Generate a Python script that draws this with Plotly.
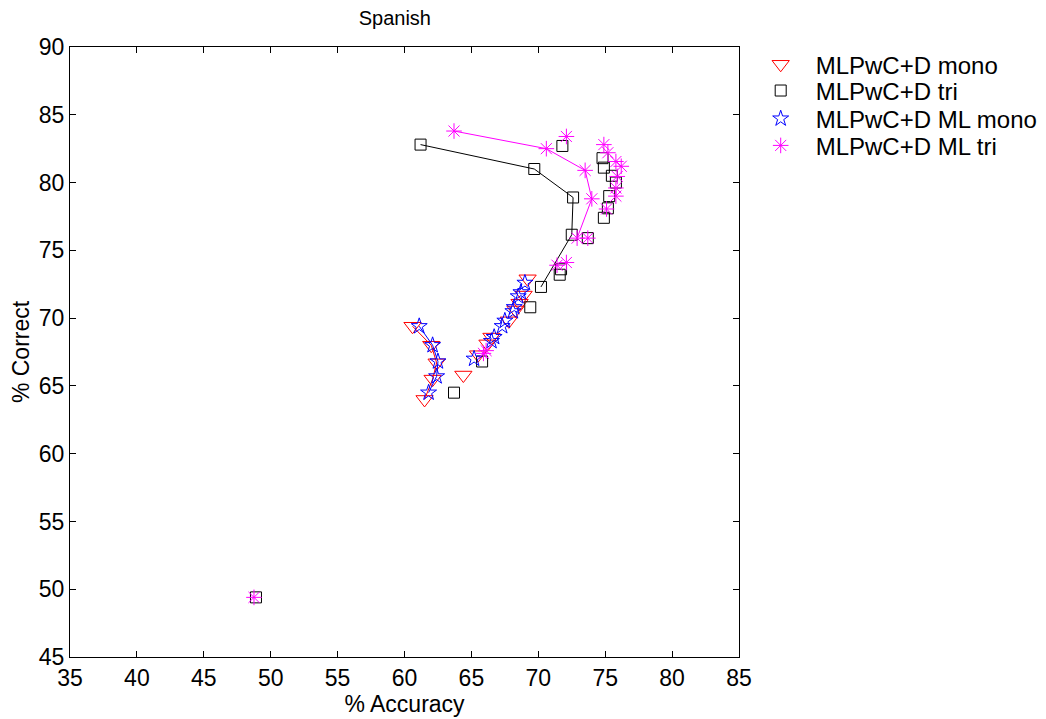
import plotly.graph_objects as go

# ---- data ----
mono_curve_x = [60.6, 62.0, 62.4, 62.1, 61.5]
mono_curve_y = [69.4, 68.0, 66.7, 65.5, 64.0]
mono_pts_x = [64.4, 69.2, 68.9, 68.6, 68.3, 67.8, 66.5, 66.2, 65.5]
mono_pts_y = [65.8, 72.9, 71.7, 71.1, 70.6, 69.8, 68.6, 68.1, 67.3]

tri_curve_x = [61.2, 69.7, 72.6, 72.5, 70.2]
tri_curve_y = [82.8, 81.0, 78.9, 76.15, 72.3]
tri_pts_x = [71.8, 74.8, 74.9, 75.5, 75.8, 75.3, 75.2, 74.9, 73.7, 71.6, 71.7, 69.4, 65.8, 63.7, 48.9]
tri_pts_y = [82.7, 81.8, 81.1, 80.5, 80.0, 79.0, 78.1, 77.4, 75.9, 73.2, 73.6, 70.8, 66.8, 64.5, 49.4]

mlmono_curve_x = [61.1, 62.1, 62.5, 62.4, 61.8]
mlmono_curve_y = [69.4, 68.0, 66.8, 65.7, 64.5]
mlmono_pts_x = [69.0, 68.7, 68.5, 68.2, 68.1, 67.5, 67.3, 66.7, 66.5, 65.2]
mlmono_pts_y = [72.6, 71.9, 71.6, 70.8, 70.5, 69.8, 69.4, 68.6, 68.3, 67.0]

mltri_curve_x = [63.7, 70.6, 73.5, 74.0, 72.9]
mltri_curve_y = [83.8, 82.5, 80.9, 78.8, 75.9]
mltri_pts_x = [72.1, 74.9, 75.2, 75.8, 76.2, 75.9, 75.8, 75.8, 75.1, 73.7, 71.4, 72.1, 65.9, 66.1, 48.75]
mltri_pts_y = [83.4, 82.8, 82.2, 81.55, 81.2, 80.45, 79.6, 79.0, 78.05, 75.9, 73.9, 74.1, 67.4, 67.6, 49.4]

x_ticks = [35, 40, 45, 50, 55, 60, 65, 70, 75, 80, 85]
y_ticks = [45, 50, 55, 60, 65, 70, 75, 80, 85, 90]

series = [
    ("MLPwC+D mono", "#ff0000", "triangle-down-open", 15, mono_curve_x, mono_curve_y, mono_pts_x, mono_pts_y),
    ("MLPwC+D tri", "#000000", "square-open", 11, tri_curve_x, tri_curve_y, tri_pts_x, tri_pts_y),
    ("MLPwC+D ML mono", "#0000ff", "star-open", 12, mlmono_curve_x, mlmono_curve_y, mlmono_pts_x, mlmono_pts_y),
    ("MLPwC+D ML tri", "#ff00ff", "asterisk-open", 13, mltri_curve_x, mltri_curve_y, mltri_pts_x, mltri_pts_y),
]
legend_ids = ["legend", "legend2", "legend3", "legend4"]

fig = go.Figure()
for (name, col, sym, sz, cx, cy, px, py), lid in zip(series, legend_ids):
    mk = dict(symbol=sym, size=sz, color=col, line=dict(color=col, width=1))
    fig.add_trace(go.Scatter(x=cx, y=cy, mode="lines+markers", line=dict(color=col, width=1),
                             marker=mk, showlegend=False, hoverinfo="skip"))
    fig.add_trace(go.Scatter(x=px, y=py, mode="markers", marker=mk, name=name, legend=lid))

font = "Liberation Sans, Arial, sans-serif"
axis_common = dict(showgrid=False, zeroline=False, showline=True, linecolor="black", linewidth=1,
                   mirror="ticks", ticks="inside", ticklen=6, tickcolor="black", automargin=False,
                   tickfont=dict(family=font, size=23, color="black"))

legend_rows = [0.971, 0.928, 0.882, 0.838]
legend_style = dict(x=1.01, xanchor="left", yanchor="middle", itemwidth=60,
                    font=dict(family=font, size=24, color="black"), bgcolor="rgba(0,0,0,0)")

fig.update_layout(
    width=1046, height=719,
    margin=dict(l=70, r=307, t=47, b=62, autoexpand=False),
    paper_bgcolor="white", plot_bgcolor="white",
    title=dict(text="Spanish", x=0.3775, xanchor="center", y=0.975, yanchor="middle",
               font=dict(family=font, size=20, color="black")),
    xaxis=dict(range=[35, 85], tickvals=x_ticks, title=dict(text="% Accuracy", standoff=5,
               font=dict(family=font, size=23, color="black")), **axis_common),
    yaxis=dict(range=[45, 90], tickvals=y_ticks, title=dict(text="% Correct", standoff=2,
               font=dict(family=font, size=23, color="black")), **axis_common),
    legend=dict(y=legend_rows[0], **legend_style),
    legend2=dict(y=legend_rows[1], **legend_style),
    legend3=dict(y=legend_rows[2], **legend_style),
    legend4=dict(y=legend_rows[3], **legend_style),
)

fig.write_html("out.html")
